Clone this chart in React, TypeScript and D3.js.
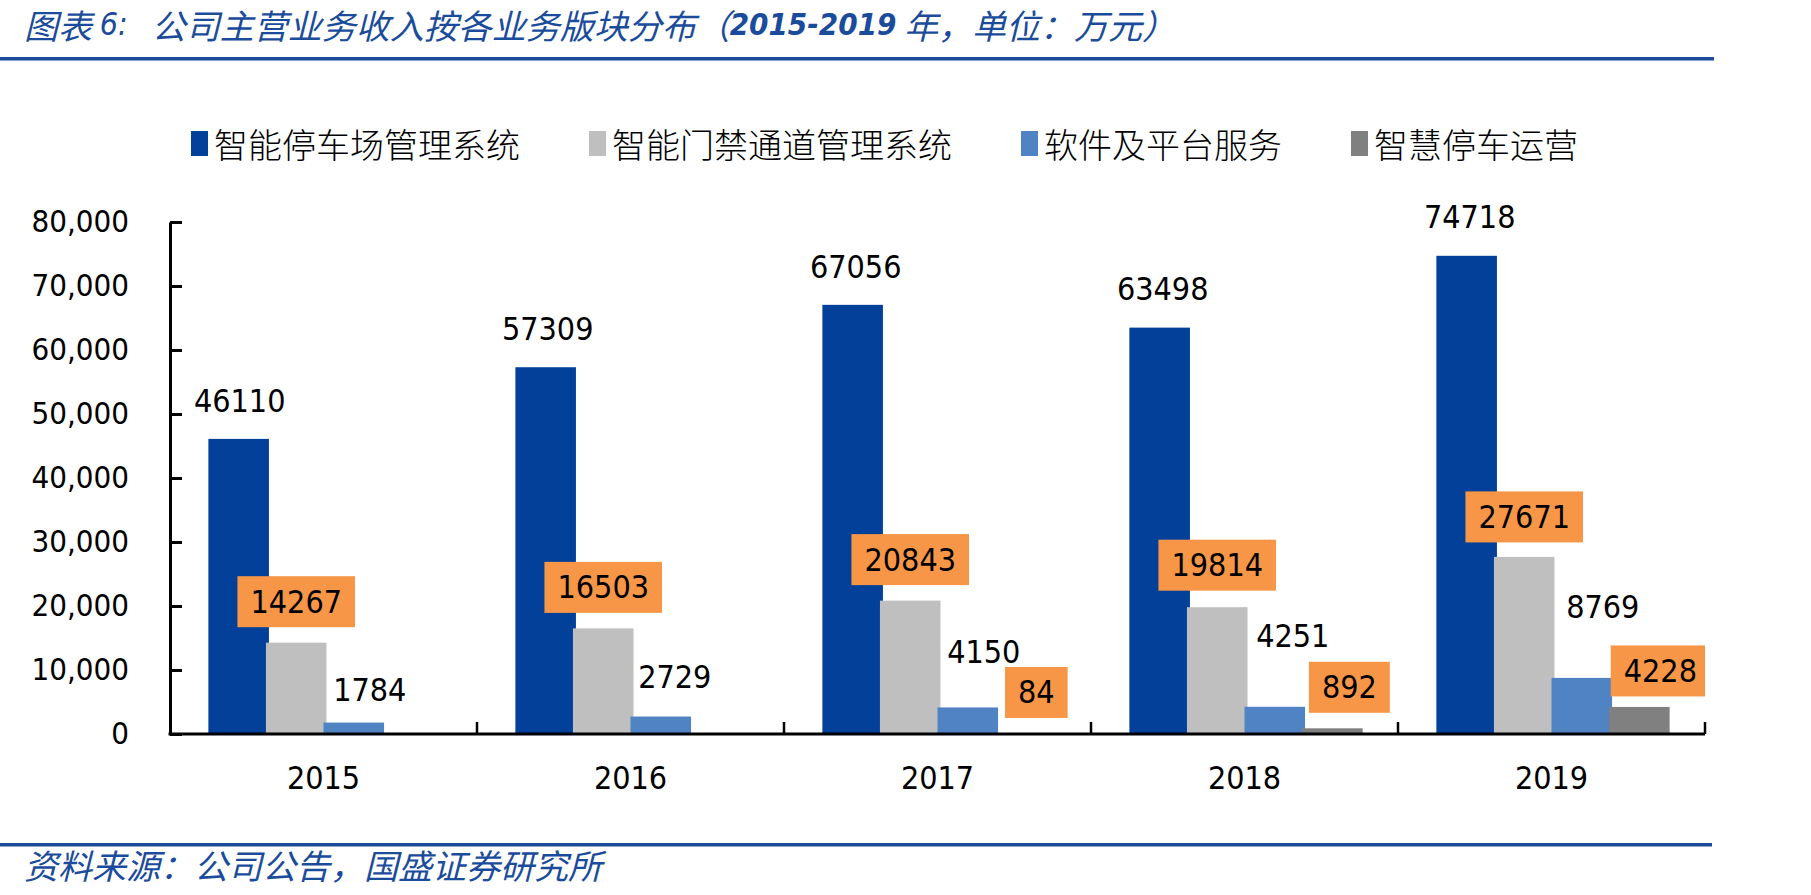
import React, { useEffect, useRef } from 'react';
import * as d3 from 'd3';

const years = ['2015', '2016', '2017', '2018', '2019'];
const seriesNames = ['智能停车场管理系统', '智能门禁通道管理系统', '软件及平台服务', '智慧停车运营'];
const parkingSystems = [46110, 57309, 67056, 63498, 74718];
const accessGates = [14267, 16503, 20843, 19814, 27671];
const softwarePlatform = [1784, 2729, 4150, 4251, 8769];
const parkingOperation = [null, null, 84, 892, 4228];
const yTickValues = [0, 10000, 20000, 30000, 40000, 50000, 60000, 70000, 80000];

const series = [parkingSystems, accessGates, softwarePlatform, parkingOperation];
const colors = ['#02409a', '#bfbfbf', '#4f83c4', '#808080'];
const boxed = [false, true, false, true];
// label centre relative to the top-centre of its bar, hand placed per bar
const labelShift: ([number, number] | null)[][] = [
  [[1, -38], [2, -38], [3, -38], [3, -39], [3, -39]],
  [[0, -41], [0, -41], [0, -41], [0, -42], [0, -40]],
  [[16, -33], [14, -40], [16, -55], [18, -71], [21, -71]],
  [null, null, [11, -41], [17, -41], [21, -36]],
];

const W = 1811;
const H = 895;
const numFont = "'DejaVu Sans Condensed', 'DejaVu Sans', sans-serif";
const cjkFont = "'Noto Sans CJK SC', sans-serif";
const titleBlue = '#1b4c9c';

function RevenueChart() {
  const svgRef = useRef<SVGSVGElement>(null);

  useEffect(() => {
    if (!svgRef.current) return;
    const svg = d3.select(svgRef.current);
    svg.selectAll('*').remove();

    const x0 = d3.scaleBand().domain(years).range([170, 1705]).paddingInner(0.25).paddingOuter(0.125);
    const x1 = d3.scaleBand().domain(['0', '1', '2', '3']).range([0, x0.bandwidth()]);
    const y = d3.scaleLinear().domain([0, 80000]).range([734, 222]);
    const barW = x1.bandwidth() + 3;

    // header / footer rules and text
    svg.append('rect').attr('x', 0).attr('y', 57).attr('width', 1714).attr('height', 3.5).attr('fill', titleBlue);
    svg.append('rect').attr('x', 0).attr('y', 843).attr('width', 1712).attr('height', 3.5).attr('fill', titleBlue);

    const title = svg.append('text')
      .attr('x', 24).attr('y', 24)
      .attr('dominant-baseline', 'central')
      .attr('font-style', 'italic')
      .attr('fill', titleBlue)
      .attr('font-size', 34)
      .attr('font-family', cjkFont);
    title.append('tspan').text('图表 ');
    title.append('tspan').attr('font-family', numFont).attr('font-size', 32).text('6:');
    title.append('tspan').attr('dx', 24).text('公司主营业务收入按各业务版块分布（');
    title.append('tspan').attr('font-family', numFont).attr('font-weight', 'bold').attr('font-size', 31).text('2015-2019');
    title.append('tspan').text(' 年，单位：万元）');

    svg.append('text')
      .attr('x', 24).attr('y', 864)
      .attr('dominant-baseline', 'central')
      .attr('font-style', 'italic')
      .attr('fill', titleBlue)
      .attr('font-size', 34)
      .attr('font-family', cjkFont)
      .text('资料来源：公司公告，国盛证券研究所');

    // legend, laid out from measured text widths
    let lx = 191;
    seriesNames.forEach((name, k) => {
      const g = svg.append('g');
      g.append('rect').attr('x', lx).attr('y', 131).attr('width', 17).attr('height', 25).attr('fill', colors[k]);
      const t = g.append('text')
        .attr('x', lx + 23).attr('y', 143)
        .attr('dominant-baseline', 'central')
        .attr('font-family', cjkFont)
        .attr('font-size', 34)
        .attr('font-weight', 300)
        .attr('fill', '#000')
        .text(name);
      const tw = (t.node() as SVGTextElement).getComputedTextLength();
      lx += 23 + tw + 69;
    });

    // bars
    series.forEach((vals, k) => {
      svg.append('g')
        .selectAll('rect')
        .data(years.map((yr, i) => ({ yr, v: vals[i] })).filter(d => d.v != null))
        .join('rect')
        .attr('x', d => (x0(d.yr) as number) + (x1(String(k)) as number))
        .attr('y', d => y(d.v as number))
        .attr('width', barW)
        .attr('height', d => y(0) - y(d.v as number))
        .attr('fill', colors[k]);
    });

    // y axis
    const yAxis = svg.append('g')
      .attr('transform', 'translate(170,0)')
      .call(d3.axisLeft(y).tickValues(yTickValues).tickFormat(d3.format(',')).tickSizeInner(-12).tickSizeOuter(0).tickPadding(41));
    yAxis.select('.domain').attr('stroke', '#000').attr('stroke-width', 3);
    yAxis.selectAll('.tick line').attr('stroke', '#000').attr('stroke-width', 3);
    yAxis.selectAll('.tick text')
      .attr('font-family', numFont)
      .attr('font-size', 31)
      .attr('fill', '#000');

    // x axis with ticks between categories
    const xAxis = svg.append('g');
    xAxis.append('line').attr('x1', 168.5).attr('x2', 1705).attr('y1', 734).attr('y2', 734)
      .attr('stroke', '#000').attr('stroke-width', 3);
    const step = x0.step();
    xAxis.selectAll('line.tk')
      .data(years.slice(1).concat(['end']))
      .join('line')
      .attr('class', 'tk')
      .attr('x1', (_d, i) => 170 + step * (i + 1))
      .attr('x2', (_d, i) => 170 + step * (i + 1))
      .attr('y1', 734).attr('y2', 722)
      .attr('stroke', '#000').attr('stroke-width', 2.5);
    xAxis.selectAll('text')
      .data(years)
      .join('text')
      .attr('x', d => (x0(d) as number) + x0.bandwidth() / 2)
      .attr('y', 778)
      .attr('text-anchor', 'middle')
      .attr('dominant-baseline', 'central')
      .attr('font-family', numFont)
      .attr('font-size', 32)
      .attr('fill', '#000')
      .text(d => d);

    // data labels, clipped to the plot's right edge
    svg.append('clipPath').attr('id', 'plotClip')
      .append('rect').attr('x', 0).attr('y', 0).attr('width', 1705).attr('height', H);
    const labels = svg.append('g').attr('clip-path', 'url(#plotClip)');
    series.forEach((vals, k) => {
      vals.forEach((v, i) => {
        const shift = labelShift[k][i];
        if (v == null || !shift) return;
        const cx = (x0(years[i]) as number) + (x1(String(k)) as number) + barW / 2 + shift[0];
        const cy = y(v) + shift[1];
        const g = labels.append('g');
        const t = g.append('text')
          .attr('x', cx).attr('y', cy)
          .attr('text-anchor', 'middle')
          .attr('dominant-baseline', 'central')
          .attr('font-family', numFont)
          .attr('font-size', 32)
          .attr('fill', '#000')
          .text(String(v));
        if (boxed[k]) {
          const tw = (t.node() as SVGTextElement).getComputedTextLength();
          g.insert('rect', 'text')
            .attr('x', cx - tw / 2 - 13)
            .attr('y', cy - 25.5)
            .attr('width', tw + 26)
            .attr('height', 51)
            .attr('fill', '#f79646');
        }
      });
    });
  }, []);

  return (
    <svg
      ref={svgRef}
      width={W}
      height={H}
      style={{ position: 'absolute', left: 0, top: 0, background: '#fff' }}
    />
  );
}

export default function App() {
  return <RevenueChart />;
}
